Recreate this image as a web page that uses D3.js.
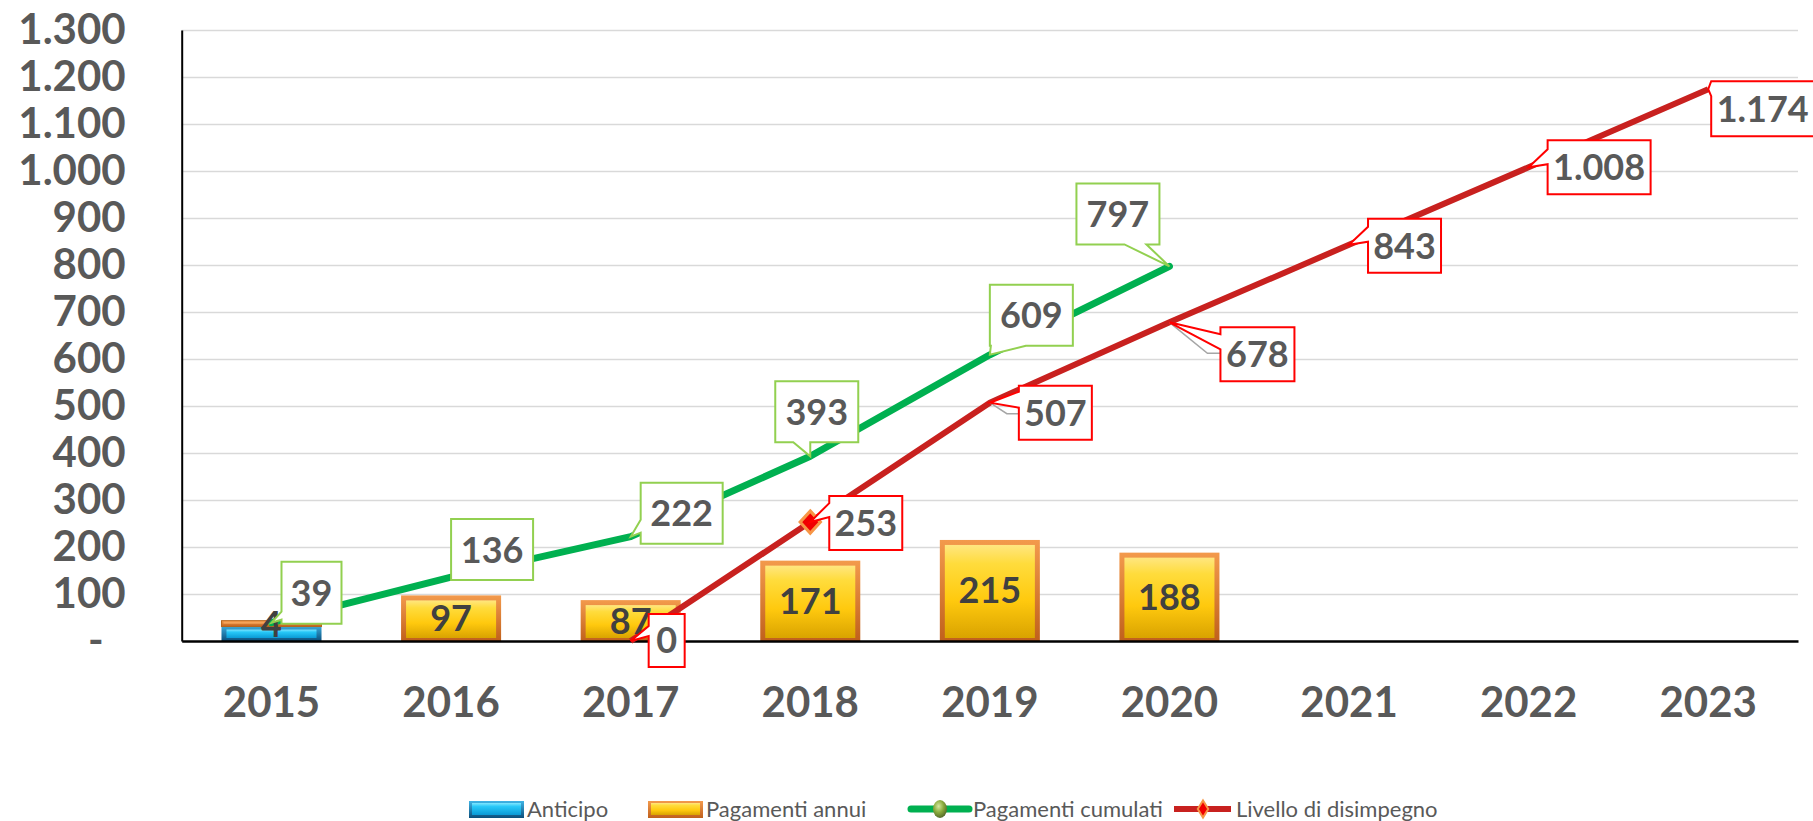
<!DOCTYPE html>
<html>
<head>
<meta charset="utf-8">
<script src="https://cdn.jsdelivr.net/npm/d3@7/dist/d3.min.js"></script>
<style>
  body { margin: 0; background: #fff; }
  svg { display: block; font-family: Lato, "Open Sans", sans-serif; }
  .axis text { fill: #595959; font-family: Lato, "Open Sans", sans-serif; font-weight: 700; font-size: 42px; }
  .bar-label { fill: #404040; font-weight: 700; font-size: 36px; }
  .callout-label { fill: #595959; font-weight: 700; font-size: 36px; }
  .legend text { fill: #595959; font-size: 22px; }
</style>
</head>
<body>
<svg id="chart" width="1813" height="821"></svg>
<script>
// Chart data
const years = ['2015', '2016', '2017', '2018', '2019', '2020', '2021', '2022', '2023'];
const anticipo = [35, null, null, null, null, null, null, null, null];
const pagamentiAnnui = [4, 97, 87, 171, 215, 188, null, null, null];
const pagamentiCumulati = [39, 136, 222, 393, 609, 797, null, null, null];
const livelloDisimpegno = [null, null, 0, 253, 507, 678, 843, 1008, 1174];
const yTicks = [0, 100, 200, 300, 400, 500, 600, 700, 800, 900, 1000, 1100, 1200, 1300];
const legendLabels = ['Anticipo', 'Pagamenti annui', 'Pagamenti cumulati', 'Livello di disimpegno'];

// Label callout placement (relative to the data point)
const greenCallouts = [
    { i: 0, dx: 10, dy: -61, w: 60, h: 62, side: 'left', a: 50, b: 58 },
    { i: 1, dx: 0, dy: -58, w: 82, h: 61, side: 'none' },
    { i: 2, dx: 10, dy: -54, w: 82, h: 61, side: 'left', a: 37, b: 50 },
    { i: 3, dx: -35, dy: -75, w: 83, h: 61, side: 'bottom', a: 18, b: 35 },
    { i: 4, dx: 0, dy: -70, w: 83, h: 61, side: 'bottom', a: 1, b: 36 },
    { i: 5, dx: -93, dy: -83, w: 83, h: 61, side: 'bottom', a: 48, b: 70 }
];
const redCallouts = [
    { i: 2, dx: 18, dy: -27, w: 36, h: 53, side: 'left', a: 12, b: 22 },
    { i: 3, dx: 19, dy: -26, w: 73, h: 54, side: 'left', a: 7, b: 21 },
    { i: 4, dx: 29, dy: -17, w: 73, h: 54, side: 'left', a: 6, b: 22, leader: [17, 11] },
    { i: 5, dx: 51, dy: 5, w: 74, h: 54, side: 'left', a: 7, b: 22, leader: [38, 31] },
    { i: 6, dx: 19, dy: -26, w: 73, h: 54, side: 'left', a: 8, b: 23 },
    { i: 7, dx: 19, dy: -27, w: 103, h: 54, side: 'left', a: 9, b: 24 },
    { i: 8, dx: 3, dy: -8, w: 103, h: 55, side: 'left', a: 0, b: 15 }
];

const plot = { left: 181.7, right: 1798, top: 30, bottom: 641 };

const itFormat = d3.formatLocale({ decimal: ',', thousands: '.', grouping: [3], currency: ['€', ''] }).format(',d');

const svg = d3.select('#chart');

// Scales
const x = d3.scaleBand()
    .domain(years)
    .range([plot.left, plot.right])
    .paddingInner(0.443)
    .paddingOuter(0.2215);
const y = d3.scaleLinear()
    .domain([0, 1300])
    .range([plot.bottom, plot.top]);
const cx = d => x(d) + x.bandwidth() / 2;

// Gradients
const defs = svg.append('defs');
function vGrad(id, stops) {
    const g = defs.append('linearGradient').attr('id', id)
        .attr('x1', 0).attr('y1', 0).attr('x2', 0).attr('y2', 1);
    stops.forEach(s => g.append('stop').attr('offset', s[0]).attr('stop-color', s[1]));
}
vGrad('yellowFill', [[0, '#ffe680'], [0.2, '#ffdc3c'], [0.6, '#ffc90e'], [1, '#d9a300']]);
vGrad('orangeEdge', [[0, '#f39a4c'], [1, '#c0601c']]);
vGrad('blueFill', [[0, '#7fe6ff'], [0.3, '#27c8f8'], [1, '#0a9ad6']]);
vGrad('blueEdge', [[0, '#3fb4e6'], [1, '#0b4f7c']]);
const rg = defs.append('radialGradient').attr('id', 'greenBall').attr('cx', 0.4).attr('cy', 0.35).attr('r', 0.7);
rg.append('stop').attr('offset', 0).attr('stop-color', '#d6e8a0');
rg.append('stop').attr('offset', 0.5).attr('stop-color', '#8aaa3c');
rg.append('stop').attr('offset', 1).attr('stop-color', '#4f6228');

// Gridlines
svg.append('g')
    .attr('transform', `translate(${plot.left},0)`)
    .call(d3.axisLeft(y).tickValues(yTicks.filter(t => t > 0)).tickSize(-(plot.right - plot.left)).tickFormat(''))
    .call(g => g.select('.domain').remove())
    .call(g => g.selectAll('line').attr('stroke', '#d9d9d9').attr('stroke-width', 1.5));

// Bars (stacked: anticipo + pagamenti annui)
const stackRows = years.map((yr, i) => ({ year: yr, anticipo: anticipo[i] || 0, annui: pagamentiAnnui[i] || 0 }));
const stacked = d3.stack().keys(['anticipo', 'annui'])(stackRows);
const barStyles = {
    anticipo: { edge: 'url(#blueEdge)', fill: 'url(#blueFill)' },
    annui: { edge: 'url(#orangeEdge)', fill: 'url(#yellowFill)' }
};
const bw = x.bandwidth();
stacked.forEach(layer => {
    const st = barStyles[layer.key];
    const g = svg.append('g');
    layer.filter(d => d[1] - d[0] > 0).forEach(d => {
        const x0 = x(d.data.year);
        const yTop = y(d[1]);
        const h = y(d[0]) - y(d[1]);
        if (h < 10) {
            g.append('rect').attr('x', x0).attr('y', yTop - 2).attr('width', bw).attr('height', h + 4)
                .attr('fill', st.edge).attr('stroke', '#b5651d').attr('stroke-width', 1);
            g.append('rect').attr('x', x0 + 2).attr('y', yTop - 1).attr('width', bw - 4).attr('height', Math.max(h, 2))
                .attr('fill', '#f4a35a');
        } else {
            g.append('rect').attr('x', x0).attr('y', yTop).attr('width', bw).attr('height', h)
                .attr('fill', st.edge);
            g.append('rect').attr('x', x0 + 5).attr('y', yTop + 5).attr('width', bw - 10).attr('height', h - 8)
                .attr('fill', st.fill);
        }
    });
});

// Axes
svg.append('g')
    .attr('class', 'axis')
    .attr('transform', `translate(${plot.left},0)`)
    .call(d3.axisLeft(y).tickValues(yTicks).tickSize(0).tickPadding(56)
        .tickFormat(d => d === 0 ? '-' : itFormat(d)))
    .call(g => g.select('.domain').attr('stroke', '#000').attr('stroke-width', 2))
    .call(g => g.selectAll('.tick').filter(d => d === 0).select('text').attr('x', -78));

svg.append('g')
    .attr('class', 'axis')
    .attr('transform', `translate(0,${plot.bottom})`)
    .call(d3.axisBottom(x).tickSize(0).tickPadding(46))
    .call(g => g.select('.domain').attr('stroke', '#000').attr('stroke-width', 2.5));

// Lines
const line = d3.line()
    .defined(d => d.v !== null)
    .x(d => cx(d.year))
    .y(d => y(d.v));
const greenData = years.map((yr, i) => ({ year: yr, v: pagamentiCumulati[i] }));
const redData = years.map((yr, i) => ({ year: yr, v: livelloDisimpegno[i] }));

svg.append('path')
    .datum(redData)
    .attr('d', line)
    .attr('fill', 'none')
    .attr('stroke', '#c8211f')
    .attr('stroke-width', 6)
    .attr('stroke-linejoin', 'round');

svg.append('path')
    .datum(greenData)
    .attr('d', line)
    .attr('fill', 'none')
    .attr('stroke', '#00b050')
    .attr('stroke-width', 7)
    .attr('stroke-linejoin', 'round')
    .attr('stroke-linecap', 'round');

// Diamond marker on 2018
const diamond = d3.symbol().type(d3.symbolDiamond2).size(260);
const mk = redData[3];
svg.append('path')
    .attr('d', diamond)
    .attr('transform', `translate(${cx(mk.year)},${y(mk.v)}) scale(1,1.1)`)
    .attr('fill', '#f00000')
    .attr('stroke', '#f79646')
    .attr('stroke-width', 3);

// Bar labels (pagamenti annui), on top of the lines
svg.append('g').selectAll('text')
    .data(stacked[1].filter(d => d[1] - d[0] > 0))
    .join('text')
    .attr('class', 'bar-label')
    .attr('x', d => cx(d.data.year))
    .attr('y', d => (y(d[0]) + y(d[1])) / 2)
    .attr('dy', '0.36em')
    .attr('text-anchor', 'middle')
    .text(d => itFormat(d.data.annui));

// Callouts
function calloutPath(bx, by, w, h, c, tx, ty) {
    if (c.side === 'left') {
        return `M${bx},${by}H${bx + w}V${by + h}H${bx}V${by + c.b}L${tx},${ty}L${bx},${by + c.a}Z`;
    }
    if (c.side === 'bottom') {
        return `M${bx},${by}H${bx + w}V${by + h}H${bx + c.b}L${tx},${ty}L${bx + c.a},${by + h}H${bx}Z`;
    }
    return `M${bx},${by}H${bx + w}V${by + h}H${bx}Z`;
}

function drawCallouts(list, values, color) {
    const g = svg.append('g');
    list.forEach(c => {
        const px = cx(years[c.i]);
        const py = y(values[c.i]);
        const bx = px + c.dx;
        const by = py + c.dy;
        if (c.leader) {
            g.append('polyline')
                .attr('points', `${px},${py} ${px + c.leader[0]},${py + c.leader[1]} ${bx},${py + c.leader[1]}`)
                .attr('fill', 'none')
                .attr('stroke', '#a6a6a6')
                .attr('stroke-width', 1.5);
        }
        g.append('path')
            .attr('d', calloutPath(bx, by, c.w, c.h, c, px, py))
            .attr('fill', '#fff')
            .attr('stroke', color)
            .attr('stroke-width', 2);
        g.append('text')
            .attr('class', 'callout-label')
            .attr('x', bx + c.w / 2)
            .attr('y', by + c.h / 2)
            .attr('dy', '0.36em')
            .attr('text-anchor', 'middle')
            .text(itFormat(values[c.i]));
    });
}
drawCallouts(greenCallouts, pagamentiCumulati, '#92d050');
drawCallouts(redCallouts, livelloDisimpegno, '#ff0000');

// Legend
const legend = svg.append('g').attr('class', 'legend');
const legendY = 809;
const legendItems = [
    { label: legendLabels[0], kind: 'bar', edge: 'url(#blueEdge)', fill: 'url(#blueFill)', x: 469 },
    { label: legendLabels[1], kind: 'bar', edge: 'url(#orangeEdge)', fill: 'url(#yellowFill)', x: 648 },
    { label: legendLabels[2], kind: 'lineBall', x: 911 },
    { label: legendLabels[3], kind: 'lineDiamond', x: 1174 }
];
legendItems.forEach(it => {
    const g = legend.append('g').attr('transform', `translate(${it.x},${legendY})`);
    if (it.kind === 'bar') {
        g.append('rect').attr('x', 0).attr('y', -8).attr('width', 55).attr('height', 17).attr('fill', it.edge);
        g.append('rect').attr('x', 3).attr('y', -6).attr('width', 49).attr('height', 12).attr('fill', it.fill);
    } else if (it.kind === 'lineBall') {
        g.append('line').attr('x1', 0).attr('x2', 58).attr('y1', 0).attr('y2', 0)
            .attr('stroke', '#00b050').attr('stroke-width', 7).attr('stroke-linecap', 'round');
        g.append('ellipse').attr('cx', 29).attr('cy', 0).attr('rx', 7).attr('ry', 9).attr('fill', 'url(#greenBall)');
    } else {
        g.append('line').attr('x1', 0).attr('x2', 57).attr('y1', 0).attr('y2', 0)
            .attr('stroke', '#c8211f').attr('stroke-width', 6);
        g.append('path').attr('d', d3.symbol().type(d3.symbolDiamond2).size(110))
            .attr('transform', 'translate(29,0) scale(0.8,1.3)')
            .attr('fill', '#f00000').attr('stroke', '#f79646').attr('stroke-width', 2);
    }
    g.append('text')
        .attr('x', it.kind === 'bar' ? 58 : 62)
        .attr('y', 0)
        .attr('dy', '0.35em')
        .text(it.label);
});
</script>
</body>
</html>
